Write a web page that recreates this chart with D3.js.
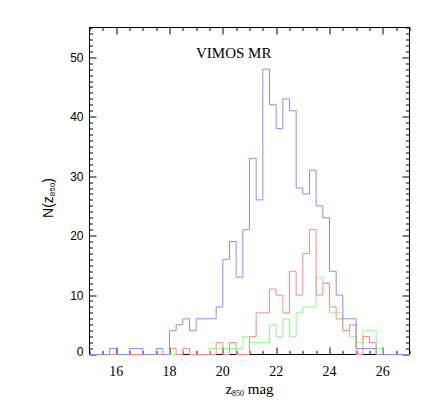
<!DOCTYPE html>
<html>
<head>
<meta charset="utf-8">
<script src="https://d3js.org/d3.v7.min.js"></script>
<style>
  body { margin: 0; background: #fff; }
  .frame { fill: none; stroke: #000; stroke-width: 1; }
  .tick { stroke: #000; stroke-width: 1; }
  .hist { fill: none; stroke-width: 1; }
  .ylab { font-family: "Liberation Sans", "DejaVu Sans", sans-serif; font-size: 12px; fill: #000; }
  .xlab { font-family: "Liberation Serif", "DejaVu Serif", serif; font-size: 14px; fill: #000; }
</style>
</head>
<body>
<div id="chart"></div>
<script>
// histogram bins: lower edges start at 15.0, width 0.25 mag
var binStart = 15.0
var binWidth = 0.25

// counts per bin (48 bins, 15.0 -> 27.0)
var blueCounts = [0, 0, 0, 1, 0, 0, 1, 1, 0, 0, 1, 0,
                  4, 5, 6, 4, 6, 6, 6, 8, 16, 19, 13, 21,
                  33, 26, 48, 42, 38, 43, 41, 28, 27, 31, 25, 23,
                  14, 10, 6, 6, 1, 1, 1, 0, 0, 0, 0, 0]

var redCounts = [0, 0, 0, 0, 0, 0, 0, 0, 0, 0, 0, 0,
                 1, 0, 1, 0, 0, 0, 0, 2, 0, 2, 0, 0,
                 3, 7, 7, 11, 10, 7, 14, 10, 17, 21, 10, 12,
                 8, 6, 4, 5, 0, 3, 2, 0, 0, 0, 0, 0]

var greenCounts = [0, 0, 0, 0, 0, 0, 0, 0, 0, 0, 0, 0,
                   0, 0, 1, 0, 0, 0, 1, 1, 1, 1, 1, 3,
                   2, 2, 2, 5, 3, 6, 3, 7, 8, 8, 13, 12,
                   7, 7, 4, 3, 2, 4, 4, 1, 0, 0, 0, 0]

var xTicks = [16, 18, 20, 22, 24, 26]
var yTicks = [0, 10, 20, 30, 40, 50]

var margin = {top: 27.5, right: 26.5, bottom: 56.5, left: 89.5}
  , width = 436 - margin.left - margin.right
  , height = 411 - margin.top - margin.bottom

var xScale = d3.scaleLinear().domain([15, 27]).range([0, width])
var yScale = d3.scaleLinear().domain([0, 55]).range([height, 0])

var svg = d3.select("#chart").append("svg")
    .attr("width", 436)
    .attr("height", 411)
  .append("g")
    .attr("transform", "translate(" + margin.left + "," + margin.top + ")")

// turn a count array into step points, closing on the right edge
function toSteps(counts) {
    var pts = counts.map(function(c, i) { return {x: binStart + i * binWidth, y: c} })
    pts.push({x: binStart + counts.length * binWidth, y: counts[counts.length - 1]})
    return pts
}

var step = d3.line()
    .x(function(d) { return xScale(d.x) })
    .y(function(d) { return yScale(d.y) })
    .curve(d3.curveStepAfter)

// box
svg.append("rect").attr("class", "frame")
    .attr("x", 0).attr("y", 0).attr("width", width).attr("height", height)

// x ticks, inward on bottom and top (minor every 0.5)
var xMinor = d3.range(15, 27.01, 0.5)
xMinor.forEach(function(v) {
    var major = xTicks.indexOf(v) >= 0
    var len = major ? 7 : 3.5
    var px = Math.round(xScale(v)) + 0.5
    svg.append("line").attr("class", "tick")
        .attr("x1", px).attr("x2", px).attr("y1", height).attr("y2", height - len)
    svg.append("line").attr("class", "tick")
        .attr("x1", px).attr("x2", px).attr("y1", 0).attr("y2", len)
})

// y ticks, inward on left and right (minor every 1)
d3.range(0, 56, 1).forEach(function(v) {
    var major = v % 10 == 0
    var len = major ? 7 : 3.5
    var py = Math.round(yScale(v)) + 0.5
    svg.append("line").attr("class", "tick")
        .attr("x1", 0).attr("x2", len).attr("y1", py).attr("y2", py)
    svg.append("line").attr("class", "tick")
        .attr("x1", width).attr("x2", width - len).attr("y1", py).attr("y2", py)
})

// tick labels
svg.selectAll(".xlabTick").data(xTicks).enter().append("text")
    .attr("class", "xlab")
    .attr("x", function(d) { return xScale(d) })
    .attr("y", height + 21.5)
    .attr("text-anchor", "middle")
    .text(function(d) { return d })

svg.selectAll(".ylabTick").data(yTicks).enter().append("text")
    .attr("class", "ylab")
    .attr("x", -6)
    .attr("y", function(d) { return yScale(d) + (d == 0 ? 1.5 : 4.5) })
    .attr("text-anchor", "end")
    .text(function(d) { return d })

// histograms: green, red, then blue on top
svg.append("path").datum(toSteps(greenCounts))
    .attr("class", "hist").attr("stroke", "#88ff88").attr("d", step)
svg.append("path").datum(toSteps(redCounts))
    .attr("class", "hist").attr("stroke", "#ff8888").attr("d", step)
svg.append("path").datum(toSteps(blueCounts))
    .attr("class", "hist").attr("stroke", "#8c8cff").attr("d", step)

// panel label
svg.append("text")
    .attr("x", 196 - margin.left)
    .attr("y", 58 - margin.top)
    .style("font-family", "'Liberation Serif', 'DejaVu Serif', serif")
    .style("font-size", "15px")
    .text("VIMOS MR")

// x axis title: z_850 mag
var xt = svg.append("text")
    .attr("x", width / 2)
    .attr("y", height + 39.5)
    .attr("text-anchor", "middle")
    .style("font-family", "'Liberation Serif', 'DejaVu Serif', serif")
    .style("font-size", "15px")
xt.append("tspan").text("z")
xt.append("tspan").attr("dy", 2).style("font-size", "8px").text("850")
xt.append("tspan").attr("dy", -2).text(" mag")

// y axis title: N(z_850)
var yt = svg.append("text")
    .attr("transform", "translate(" + (53 - margin.left) + "," + (198 - margin.top) + ") rotate(-90)")
    .attr("text-anchor", "middle")
    .style("font-family", "'Liberation Sans', 'DejaVu Sans', sans-serif")
    .style("font-size", "14px")
yt.append("tspan").text("N(z")
yt.append("tspan").attr("dy", 2).style("font-size", "8px").text("850")
yt.append("tspan").attr("dy", -2).text(")")
</script>
</body>
</html>
